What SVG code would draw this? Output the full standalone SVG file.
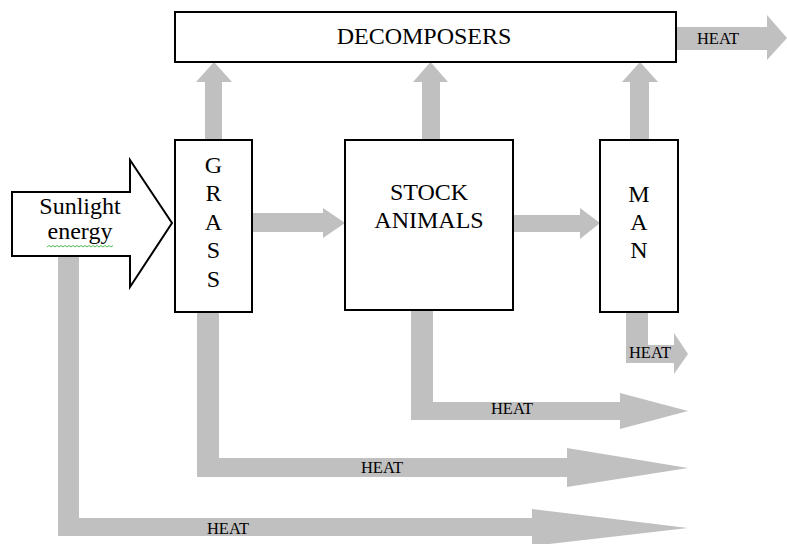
<svg xmlns="http://www.w3.org/2000/svg" width="787" height="544" viewBox="0 0 787 544" font-family="'Liberation Serif', 'DejaVu Serif', serif">
<style>
.flow{fill:#c0c0c0;stroke:none}
.box{fill:#fff;stroke:#000;stroke-width:2}
text{font-family:'Liberation Serif','DejaVu Serif',serif;fill:#000;text-anchor:middle}
.big{font-size:24px}
.heat{font-size:16.5px}
</style>
<rect width="787" height="544" fill="#fff"/>
<g id="connectors">
  <path class="flow" d="M205,140 V82 H196 L214,62 L232,82 H222 V140 Z"/>
  <path class="flow" d="M422,140 V82 H413 L430.5,62 L448,82 H440 V140 Z"/>
  <path class="flow" d="M630,140 V82 H622 L640,62 L658,82 H649 V140 Z"/>
  <path class="flow" d="M676,27 H767 V15 L787,38 L767,60 V50 H676 Z"/>
  <path class="flow" d="M251,213 H323 V208 L345,223 L323,238 V232 H251 Z"/>
  <path class="flow" d="M513,215 H580 V208 L600,223 L580,239 V232 H513 Z"/>
  <path class="flow" d="M626,311 H648 V345 H674 V333 L688,354 L674,374 V363 H626 Z"/>
  <path class="flow" d="M411,309 H433 V402 H620 V393 L688,411 L620,429 V420 H411 Z"/>
  <path class="flow" d="M197,311 H219 V458 H567 V448 L688,468 L567,487 V477 H197 Z"/>
  <path class="flow" d="M58,250 H79 V518 H532 V509 L688,528 L532,546 V536 H58 Z"/>
  <text class="heat" x="718" y="44">HEAT</text>
  <text class="heat" x="650" y="358">HEAT</text>
  <text class="heat" x="512" y="414">HEAT</text>
  <text class="heat" x="382" y="473">HEAT</text>
  <text class="heat" x="228" y="534">HEAT</text>
</g>
<g id="decomposers">
  <rect class="box" x="175" y="12" width="501" height="50"/>
  <text class="big" x="424" y="44">DECOMPOSERS</text>
</g>
<g id="sunlight">
  <path class="box" d="M12,192 H130 V160 L172,223 L130,287 V256 H12 Z"/>
  <text class="big" x="80" y="214">Sunlight</text>
  <text class="big" x="80" y="239">energy</text>
  <path d="M47,247 l2,-1.5 l2,1.5 l2,-1.5 l2,1.5 l2,-1.5 l2,1.5 l2,-1.5 l2,1.5 l2,-1.5 l2,1.5 l2,-1.5 l2,1.5 l2,-1.5 l2,1.5 l2,-1.5 l2,1.5 l2,-1.5 l2,1.5 l2,-1.5 l2,1.5 l2,-1.5 l2,1.5 l2,-1.5 l2,1.5 l2,-1.5 l2,1.5 l2,-1.5 l2,1.5 l2,-1.5 l2,1.5 l2,-1.5 l2,1.5 l2,-1.5" fill="none" stroke="#3cb043" stroke-width="0.9"/>
</g>
<g id="grass">
  <rect class="box" x="175" y="140" width="77" height="172"/>
  <text class="big" x="213.5" y="173">G</text>
  <text class="big" x="213.5" y="201">R</text>
  <text class="big" x="213.5" y="230">A</text>
  <text class="big" x="213.5" y="258">S</text>
  <text class="big" x="213.5" y="287">S</text>
</g>
<g id="stock">
  <rect class="box" x="345" y="140" width="168" height="170"/>
  <text class="big" x="429" y="200">STOCK</text>
  <text class="big" x="429" y="228">ANIMALS</text>
</g>
<g id="man">
  <rect class="box" x="600" y="140" width="78" height="172"/>
  <text class="big" x="639" y="202">M</text>
  <text class="big" x="639" y="230">A</text>
  <text class="big" x="639" y="258">N</text>
</g>
</svg>
